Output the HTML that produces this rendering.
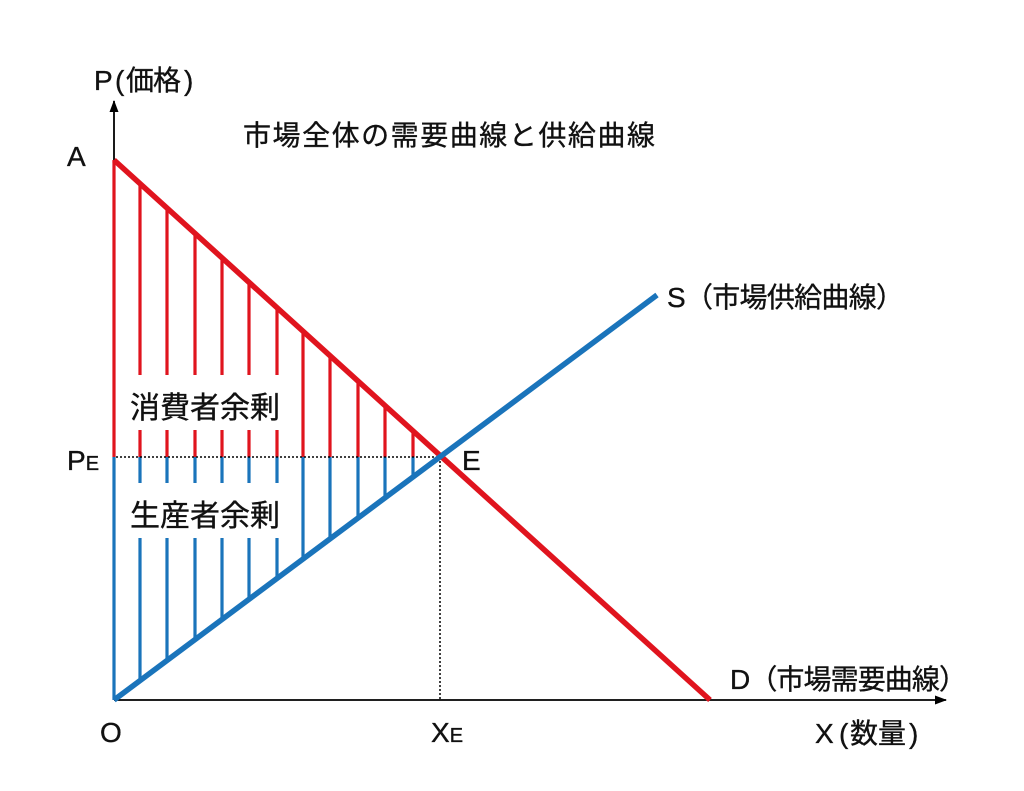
<!DOCTYPE html>
<html><head><meta charset="utf-8"><style>
html,body{margin:0;padding:0;background:#fff;}
svg{display:block;}
text{font-family:"Liberation Sans","Noto Sans CJK JP",sans-serif;fill:#111;stroke:#111;stroke-width:0.35;}
</style></head><body>
<svg width="1024" height="791" viewBox="0 0 1024 791" xmlns="http://www.w3.org/2000/svg">
<defs>
<marker id="ar" markerWidth="12" markerHeight="12" refX="11" refY="6" orient="auto" markerUnits="userSpaceOnUse">
<path d="M0,1.5 L12,6 L0,10.5 Z" fill="#000"/></marker>
</defs>
<line x1="114" y1="700" x2="114" y2="101" stroke="#000" stroke-width="1.8" marker-end="url(#ar)"/>
<line x1="114" y1="700" x2="946" y2="700" stroke="#000" stroke-width="1.8" marker-end="url(#ar)"/>
<g stroke="#e0141e" stroke-width="3.2">
<line x1="114" y1="160" x2="114" y2="457"/>
<line x1="140" y1="184" x2="140" y2="375"/><line x1="140" y1="430" x2="140" y2="457"/>
<line x1="167" y1="208" x2="167" y2="375"/><line x1="167" y1="430" x2="167" y2="457"/>
<line x1="195" y1="233" x2="195" y2="375"/><line x1="195" y1="430" x2="195" y2="457"/>
<line x1="222" y1="258" x2="222" y2="375"/><line x1="222" y1="430" x2="222" y2="457"/>
<line x1="249" y1="282" x2="249" y2="375"/><line x1="249" y1="430" x2="249" y2="457"/>
<line x1="277" y1="307" x2="277" y2="375"/><line x1="277" y1="430" x2="277" y2="457"/>
<line x1="303" y1="331" x2="303" y2="457"/>
<line x1="330" y1="355" x2="330" y2="457"/>
<line x1="358" y1="380" x2="358" y2="457"/>
<line x1="385" y1="405" x2="385" y2="457"/>
<line x1="413" y1="430" x2="413" y2="457"/>
</g>
<g stroke="#1a74bb" stroke-width="3.2">
<line x1="114" y1="457" x2="114" y2="700"/>
<line x1="140" y1="457" x2="140" y2="483"/><line x1="140" y1="538" x2="140" y2="680"/>
<line x1="167" y1="457" x2="167" y2="483"/><line x1="167" y1="538" x2="167" y2="660"/>
<line x1="195" y1="457" x2="195" y2="483"/><line x1="195" y1="538" x2="195" y2="639"/>
<line x1="222" y1="457" x2="222" y2="483"/><line x1="222" y1="538" x2="222" y2="619"/>
<line x1="249" y1="457" x2="249" y2="483"/><line x1="249" y1="538" x2="249" y2="598"/>
<line x1="277" y1="457" x2="277" y2="483"/><line x1="277" y1="538" x2="277" y2="578"/>
<line x1="303" y1="457" x2="303" y2="558"/>
<line x1="330" y1="457" x2="330" y2="538"/>
<line x1="358" y1="457" x2="358" y2="517"/>
<line x1="385" y1="457" x2="385" y2="497"/>
<line x1="413" y1="457" x2="413" y2="477"/>
</g>
<line x1="116" y1="457" x2="440" y2="457" stroke="#000" stroke-width="1.5" stroke-dasharray="2,2"/>
<line x1="440" y1="457" x2="440" y2="700" stroke="#000" stroke-width="1.5" stroke-dasharray="2,2"/>
<line x1="114" y1="160" x2="710" y2="700" stroke="#e0141e" stroke-width="5.5"/>
<line x1="114" y1="700" x2="657" y2="295" stroke="#1a74bb" stroke-width="5.5"/>
<g font-size="28">
<text x="94 115 126 153 184" y="90">P(価格)</text>
<text x="243" y="145" textLength="412" lengthAdjust="spacing">市場全体の需要曲線と供給曲線</text>
<text x="67" y="166">A</text>
<text x="130" y="418" font-size="30">消費者余剰</text>
<text x="130" y="526" font-size="30">生産者余剰</text>
<text x="67" y="470">P<tspan font-size="20">E</tspan></text>
<text x="462" y="470">E</text>
<text x="100" y="742">O</text>
<text x="431" y="742">X<tspan font-size="20">E</tspan></text>
<text x="815 839 850 878 909" y="743">X(数量)</text>
<text x="667" y="307" textLength="237" lengthAdjust="spacing">S（市場供給曲線）</text>
<text x="730" y="689" textLength="237" lengthAdjust="spacing">D（市場需要曲線）</text>
</g>
</svg>
</body></html>
